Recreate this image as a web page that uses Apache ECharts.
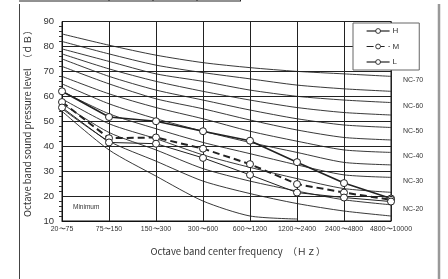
<!DOCTYPE html>
<html><head><meta charset="utf-8">
<script src="https://cdn.jsdelivr.net/npm/echarts@6/dist/echarts.min.js"></script>
<style>html,body{margin:0;padding:0;background:#fff}#c{width:448px;height:279px}</style>
</head><body><div id="c"></div>
<script>
const categories = ['20〜75','75〜150','150〜300','300〜600','600〜1200','1200〜2400','2400〜4800','4800〜10000'];
const yTicks = [10, 90, 10]; // min, max, interval
const H = [62, 51.7, 50, 46, 42.2, 33.6, 25.2, 19];
const M = [57.7, 43.2, 43.5, 39, 32.8, 24.8, 21.4, 18.5];
const L = [55.5, 41.5, 41, 35.3, 28.5, 21.4, 19.4, 17.8];
const nc70 = [85, 80.5, 76.5, 73.5, 71.5, 70, 69, 68];
const nc65 = [82, 77, 72.5, 69.5, 67, 64.5, 63, 62];
const nc60 = [79, 74, 69, 66, 62.5, 60, 58.5, 57.5];
const nc55 = [77, 71, 66, 62, 58.5, 55.5, 53.5, 52.5];
const nc50 = [75, 68, 62.5, 58.5, 54.5, 51, 48.5, 47.5];
const nc45 = [72, 65, 59, 55, 50.5, 46.5, 43.5, 42.5];
const nc40 = [68, 61, 55.5, 51, 46, 42, 38.5, 37.5];
const nc35 = [65, 57, 51, 46, 41.5, 37.5, 33.5, 32.5];
const nc30 = [62, 53, 47, 41.5, 37, 32.5, 28.5, 27.5];
const nc25 = [59, 49, 43, 36.5, 31.5, 27, 23, 21.5];
const nc20 = [57, 45.5, 38.5, 31, 26, 22, 18.5, 16.5];
const nc15 = [55, 42, 34, 26, 21, 17, 14, 12];
const minimum = [54, 38.5, 28, 18, 12, 10.8, null, null];
const ncCurves = [['NC-70',nc70],['NC-65',nc65],['NC-60',nc60],['NC-55',nc55],['NC-50',nc50],['NC-45',nc45],['NC-40',nc40],['NC-35',nc35],['NC-30',nc30],['NC-25',nc25],['NC-20',nc20],['NC-15',nc15]];
const labeled = ['NC-70','NC-60','NC-50','NC-40','NC-30','NC-20'];

const chart = echarts.init(document.getElementById('c'), null, {renderer:'canvas'});
const series = [];
ncCurves.forEach(([name, d]) => {
  series.push({
    name, type:'line', data:d, smooth:0.25, symbol:'none', silent:true,
    lineStyle:{color:'#222', width:0.9}, z:2,
    endLabel: labeled.includes(name) ? {show:true, formatter:name, color:'#333', fontSize:7, fontFamily:'Liberation Sans, Arial', offset:[4,4]} : {show:false}
  });
});
series.push({name:'min', type:'line', data:minimum, smooth:0.25, symbol:'none', silent:true, lineStyle:{color:'#222', width:0.9}, z:2});
const pt = {symbol:'circle', symbolSize:7, itemStyle:{color:'#fff', borderColor:'#222', borderWidth:1}, z:5};
series.push(Object.assign({name:'H', type:'line', data:H, lineStyle:{color:'#222', width:1.6}}, pt));
series.push(Object.assign({name:'M', type:'line', data:M, lineStyle:{color:'#222', width:2, type:[7,4]}}, pt));
series.push(Object.assign({name:'L', type:'line', data:L, lineStyle:{color:'#222', width:1}}, pt));

chart.setOption({
  animation:false,
  backgroundColor:'#fff',
  grid:{left:62, right:57, top:21.5, bottom:58, show:true, borderColor:'#111', borderWidth:1},
  legend:{
    data:['H','M','L'], orient:'vertical', left:353, top:23, width:59,
    backgroundColor:'#fff', borderColor:'#666', borderWidth:1, padding:[4,20,4,13],
    itemWidth:23, itemHeight:6, itemGap:7.5,
    lineStyle:{width:1.2},
    itemStyle:{borderWidth:0.9},
    textStyle:{fontSize:8, color:'#333', fontFamily:'Liberation Sans, Arial', padding:[0,0,0,-2]}
  },
  xAxis:{
    type:'category', data:categories, boundaryGap:false,
    axisLine:{lineStyle:{color:'#111'}}, axisTick:{show:false},
    axisLabel:{fontSize:7, color:'#333', margin:5, fontFamily:'Liberation Sans, Arial', interval:0},
    splitLine:{show:true, lineStyle:{color:'#222', width:1}}
  },
  yAxis:{
    type:'value', min:yTicks[0], max:yTicks[1], interval:yTicks[2],
    name:'Octave band sound pressure level　（ｄＢ）', nameLocation:'middle', nameGap:30,
    nameTextStyle:{fontSize:9.5, color:'#333', fontFamily:'Noto Sans CJK JP, Liberation Sans'},
    axisLine:{show:true, lineStyle:{color:'#111'}}, axisTick:{show:false},
    minorTick:{show:true, splitNumber:5, length:3, lineStyle:{color:'#333'}},
    axisLabel:{fontSize:9.5, color:'#333', margin:8, fontFamily:'Liberation Sans, Arial'},
    splitLine:{show:true, lineStyle:{color:'#222', width:1}}
  },
  graphic:[
    {type:'line', shape:{x1:19, y1:1, x2:241, y2:1}, style:{stroke:'#222', lineWidth:1}},
    {type:'line', shape:{x1:109, y1:0, x2:109, y2:1}, style:{stroke:'#222', lineWidth:1}},
    {type:'line', shape:{x1:153, y1:0, x2:153, y2:1}, style:{stroke:'#222', lineWidth:1}},
    {type:'line', shape:{x1:197, y1:0, x2:197, y2:1}, style:{stroke:'#222', lineWidth:1}},
    {type:'line', shape:{x1:240.5, y1:0, x2:240.5, y2:1}, style:{stroke:'#222', lineWidth:1}},
    {type:'line', shape:{x1:19.5, y1:4, x2:19.5, y2:279}, style:{stroke:'#444', lineWidth:1}},
    {type:'line', shape:{x1:439, y1:4, x2:439, y2:279}, style:{stroke:'#999', lineWidth:2.5}},
    {type:'text', left:73, top:204, style:{text:'Minimum', fontSize:6.5, fill:'#333', fontFamily:'Liberation Sans, Arial'}},
    {type:'text', x:238, y:251, style:{text:'Octave band center frequency　（Ｈｚ）', fontSize:9.5, fill:'#333', align:'center', verticalAlign:'middle', fontFamily:'Noto Sans CJK JP, Liberation Sans'}}
  ],
  series
});
</script></body></html>
